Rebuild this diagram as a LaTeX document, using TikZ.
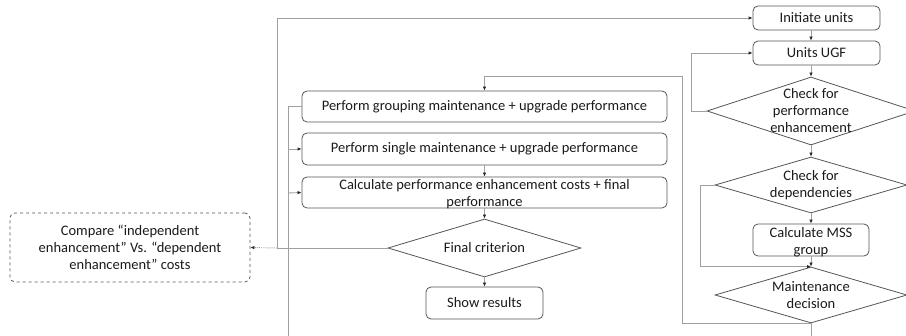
\documentclass[tikz,border=0pt]{standalone}
\usepackage{fontspec}
\setmainfont{Carlito}
\usetikzlibrary{shapes.geometric,arrows.meta}
\definecolor{edge}{HTML}{555555}
\definecolor{conn}{HTML}{A0A0A0}
\definecolor{txtc}{HTML}{1A1A1A}
\begin{document}
\begin{tikzpicture}[x=1pt,y=-1pt,
  font=\fontsize{14.5}{17}\selectfont, text=txtc,
  box/.style={draw=edge, rounded corners=5pt, inner sep=0pt, line width=0.8pt},
  dia/.style={draw=edge, diamond, inner sep=0pt, line width=0.8pt},
  lbl/.style={align=center, inner sep=0pt},
  conn/.style={draw=conn, line width=0.9pt},
  tip/.style={-{Latex[length=4pt,width=3.5pt,color=black!85]}},
  arr/.style={conn, tip}]
\useasboundingbox (0,0) rectangle (906,336);
\begin{scope}
\clip (0,0) rectangle (906,336);
% right column
\node[box, minimum width=127pt, minimum height=24pt] (init) at (816.5,18) {Initiate units};
\node[box, minimum width=127pt, minimum height=24pt] (ugf) at (816.5,53) {Units UGF};
\node[dia, minimum width=208pt, minimum height=68pt] (perf) at (811,111) {};
\node[lbl] (perft) at (perf) {Check for\\performance\\enhancement};
\node[dia, minimum width=192pt, minimum height=56pt] (dep) at (811,185) {};
\node[lbl] (dept) at (dep) {Check for\\dependencies};
\node[box, minimum width=116pt, minimum height=32pt] (mss) at (811,240) {};
\node[lbl] (msst) at (811,242) {Calculate MSS\\group};
\node[dia, minimum width=192pt, minimum height=56pt] (maint) at (811,295) {};
\node[lbl] (maintt) at (maint) {Maintenance\\decision};
% left column
\node[box, minimum width=365pt, minimum height=31pt] (group) at (484.5,106.5) {Perform grouping maintenance + upgrade performance};
\node[box, minimum width=365pt, minimum height=32pt] (single) at (484.5,149) {Perform single maintenance + upgrade performance};
\node[box, minimum width=365pt, minimum height=31pt] (calc) at (484.5,192.5) {};
\node[lbl] (calct) at (484.5,194.5) {Calculate performance enhancement costs + final\\performance};
\node[dia, minimum width=193pt, minimum height=58pt] (fin) at (484.5,248) {};
\node[lbl] (fint) at (fin) {Final criterion};
\node[box, minimum width=117pt, minimum height=32pt] (show) at (484.5,303) {Show results};
\node[box, dashed, minimum width=240pt, minimum height=69pt] (cmp) at (130,247.5) {};
\node[lbl] (cmpt) at (cmp) {Compare “independent\\enhancement” Vs. “dependent\\enhancement” costs};
% coordinates
\coordinate (jl) at (277,248);
\coordinate (mbot) at (811,340);
\coordinate (lbot) at (288,340);
% connectors
\draw[arr] (perf.north |- init.south) -- (perf.north |- ugf.north);
\draw[arr] (perf.north |- ugf.south) -- (perf.north);
\draw[arr] (perf.west) -- ++(-15,0) |- (ugf.west);
\draw[arr] (perf.south) -- (dep.north);
\draw[arr] (dep.south) -- (mss.north);
\draw[arr] (mss.south) -- (maint.north);
\draw[arr] (dep.west) -- ++(-14,0) |- (maint.north);
\draw[conn] (maint.south) -- (mbot);
\draw[arr] (maint.south) -- ++(-129,0) -- ++(0,-247) -| (group.north);
\draw[arr] (single) -- (calc);
\draw[arr] (calc.south) -- (fin.north);
\draw[arr] (fin.south) -- (show.north);
\draw[conn] (fin.west) -- (jl);
\draw[arr] (jl) |- (init.west);
\draw[conn, densely dotted, tip] (jl) -- (cmp.east);
\draw[conn] (group.west) -| (lbot);
\draw[arr] (288,149) -- (single.west);
\draw[arr] (288,193) -- (calc.west);
\end{scope}
\end{tikzpicture}
\end{document}
